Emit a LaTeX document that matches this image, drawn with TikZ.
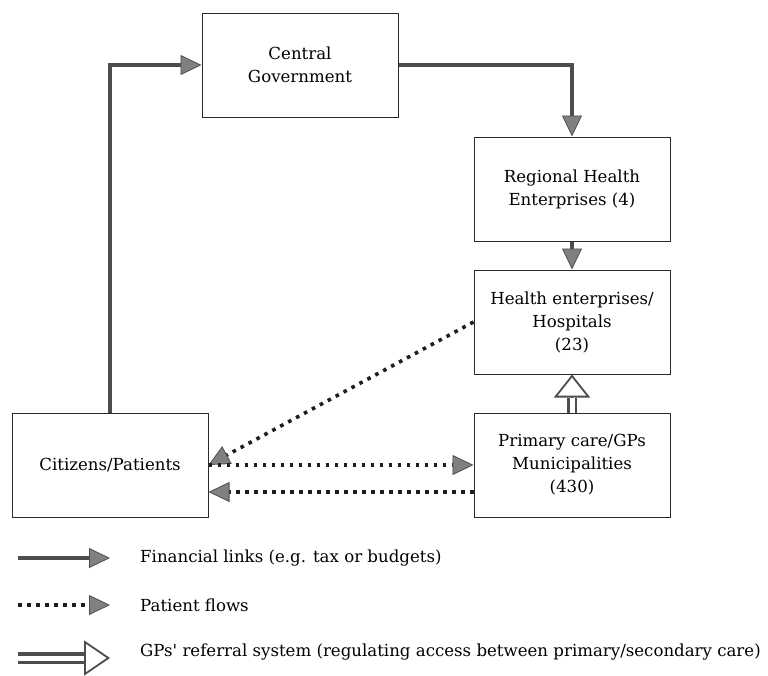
\documentclass[tikz,border=0pt]{standalone}
\usepackage{fontspec}
\setmainfont{DejaVu Serif}[Ligatures=TeXOff]
\usetikzlibrary{arrows.meta,calc}
\definecolor{linegray}{HTML}{4D4D4F}
\definecolor{tipfill}{HTML}{808083}
\definecolor{tipdraw}{HTML}{505052}
\definecolor{boxline}{HTML}{2A2A2A}
\definecolor{dotcol}{HTML}{1E1E1E}
\tikzset{
  box/.style={draw=boxline, line width=1pt, minimum width=196pt, minimum height=104pt, align=center, font=\fontsize{16.6}{23}\selectfont, inner sep=0pt},
  gtip/.style={-{Triangle[length=21pt,width=20pt,fill=tipfill,color=tipdraw,line width=0.8pt]}},
  fin/.style={gtip, draw=linegray, line width=3.8pt},
  flow/.style={gtip, draw=dotcol, line width=3.6pt, dash pattern=on 3.6pt off 5.4pt},
  dbl/.style={draw=linegray, double=white, line width=2.8pt, double distance=5pt},
  legtext/.style={anchor=west, font=\fontsize{16.6}{20}\selectfont, inner sep=0pt}
}
\begin{document}
\begin{tikzpicture}[x=1pt,y=-1pt]
\useasboundingbox (0,0) rectangle (768,675);
\node[box] (cg) at (300,65) {Central\\Government};
\node[box] (reg) at (572,189) {Regional Health\\Enterprises (4)};
\node[box] (hosp) at (572,322) {Health enterprises/\\Hospitals\\(23)};
\node[box] (prim) at (572,465) {Primary care/GPs\\Municipalities\\(430)};
\node[box] (cit) at (110,465) {Citizens/Patients};

\draw[fin] (cit.north) |- (cg.west);
\draw[fin] (cg.east) -| (reg.north);
\draw[fin] (reg.south) -- (hosp.north);

\draw[flow] (hosp.west) -- (cit.east);
\draw[flow] (cit.east) -- (prim.west);
\draw[flow] ($(prim.west)+(0,27)$) -- ($(cit.east)+(0,27)$);

\coordinate (hb) at ($(hosp.south)+(0,23)$);
\draw[dbl] (prim.north) -- (hb);
\draw[draw=linegray, line width=1.8pt, -{Triangle[open,length=23pt,width=36pt,line width=1.8pt]}] (hb) -- (hosp.south);

% legend
\coordinate (l1a) at (18,558);
\coordinate (l1b) at (110,558);
\draw[fin] (l1a) -- (l1b);
\node[legtext] (t1) at (140,558) {Financial links (e.g. tax or budgets)};

\coordinate (l2a) at (18,605);
\coordinate (l2b) at (110,605);
\draw[flow] (l2a) -- (l2b);
\node[legtext] (t2) at (140,605) {Patient flows};

\coordinate (l3a) at (18,658);
\coordinate (l3m) at (84,658);
\coordinate (l3b) at (110,658);
\draw[draw=linegray, double=white, line width=3.5pt, double distance=5pt] (l3a) -- (l3m);
\draw[draw=linegray, line width=1.8pt, -{Triangle[open,length=26pt,width=35pt,line width=1.8pt]}] (l3m) -- (l3b);
\node[legtext] (t3) at (140,652) {GPs' referral system (regulating access between primary/secondary care)};
\end{tikzpicture}
\end{document}
